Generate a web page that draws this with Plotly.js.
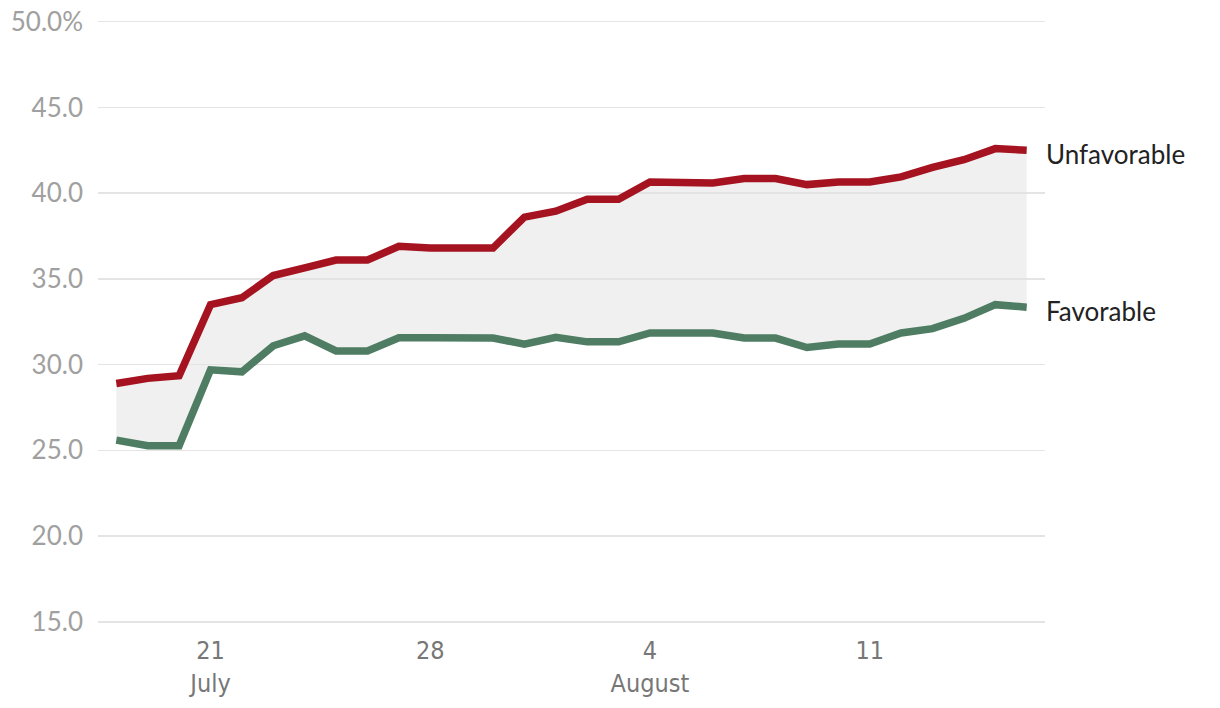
<!DOCTYPE html>
<html>
<head>
<meta charset="utf-8">
<script src="https://cdn.plot.ly/plotly-3.0.1.min.js"></script>
<style>
  html, body { margin: 0; padding: 0; background: #ffffff; }
  #chart { width: 1220px; height: 708px; }
</style>
</head>
<body>
<div id="chart"></div>
<script>
const dates = [
  '2019-07-18','2019-07-19','2019-07-20','2019-07-21','2019-07-22','2019-07-23','2019-07-24','2019-07-25','2019-07-26','2019-07-27',
  '2019-07-28','2019-07-29','2019-07-30','2019-07-31','2019-08-01','2019-08-02','2019-08-03','2019-08-04','2019-08-05','2019-08-06',
  '2019-08-07','2019-08-08','2019-08-09','2019-08-10','2019-08-11','2019-08-12','2019-08-13','2019-08-14','2019-08-15','2019-08-16'
];
const unfavorable = [
  28.9, 29.2, 29.35, 33.5, 33.9, 35.2, 35.65, 36.1, 36.1, 36.9,
  36.8, 36.8, 36.8, 38.6, 38.95, 39.65, 39.65, 40.65, 40.6, 40.6,
  40.85, 40.85, 40.5, 40.65, 40.65, 40.95, 41.5, 41.95, 42.6, 42.5
];
const favorable = [
  25.6, 25.27, 25.27, 29.7, 29.58, 31.1, 31.68, 30.8, 30.8, 31.57,
  31.57, 31.57, 31.55, 31.2, 31.6, 31.33, 31.33, 31.85, 31.85, 31.85,
  31.55, 31.55, 31.0, 31.2, 31.2, 31.85, 32.1, 32.7, 33.5, 33.35
];
const yTickVals = [15, 20, 25, 30, 35, 40, 45, 50];
const yTickText = ['15.0', '20.0', '25.0', '30.0', '35.0', '40.0', '45.0', '50.0%'];
const xTickVals = ['2019-07-21', '2019-07-28', '2019-08-04', '2019-08-11'];
const xTickText = ['21<br>July', '28', '4<br>August', '11'];
const seriesNames = ['Favorable', 'Unfavorable'];

const traces = [
  {
    x: dates, y: favorable, type: 'scatter', mode: 'lines', name: seriesNames[0],
    line: { color: '#4e7d63', width: 7.5 }, hoverinfo: 'x+y'
  },
  {
    x: dates, y: unfavorable, type: 'scatter', mode: 'lines', name: seriesNames[1],
    fill: 'tonexty', fillcolor: 'rgba(225,225,225,0.5)',
    line: { color: '#a51320', width: 7.5 }, hoverinfo: 'x+y'
  }
];

const layout = {
  width: 1220, height: 708,
  margin: { l: 98, r: 175, t: 20, b: 81 },
  paper_bgcolor: '#ffffff', plot_bgcolor: '#ffffff',
  showlegend: false,
  xaxis: {
    type: 'date',
    range: ['2019-07-17 10:00', '2019-08-16 14:00'],
    tickvals: xTickVals, ticktext: xTickText,
    showgrid: false, zeroline: false, showline: false, ticks: '',
    ticklabelstandoff: 6,
    tickfont: { family: 'DejaVu Sans Condensed, Roboto, sans-serif', size: 25, color: '#777777' }
  },
  yaxis: {
    range: [14.7, 50.1],
    tickvals: yTickVals, ticktext: yTickText,
    showgrid: true, gridcolor: '#e4e4e4', gridwidth: 1.5,
    zeroline: false, showline: false, ticks: '',
    ticklabelstandoff: 14,
    tickfont: { family: 'Lato, sans-serif', size: 26, color: '#a0a0a0' }
  },
  annotations: [
    {
      x: dates[dates.length - 1], y: unfavorable[unfavorable.length - 1],
      xref: 'x', yref: 'y', text: seriesNames[1], showarrow: false,
      xanchor: 'left', yanchor: 'middle', xshift: 17, yshift: -4,
      font: { family: 'Lato, sans-serif', size: 26, color: '#222222' }
    },
    {
      x: dates[dates.length - 1], y: favorable[favorable.length - 1],
      xref: 'x', yref: 'y', text: seriesNames[0], showarrow: false,
      xanchor: 'left', yanchor: 'middle', xshift: 17, yshift: -4,
      font: { family: 'Lato, sans-serif', size: 26, color: '#222222' }
    }
  ]
};

Plotly.newPlot('chart', traces, layout, { displayModeBar: false, staticPlot: true });
</script>
</body>
</html>
